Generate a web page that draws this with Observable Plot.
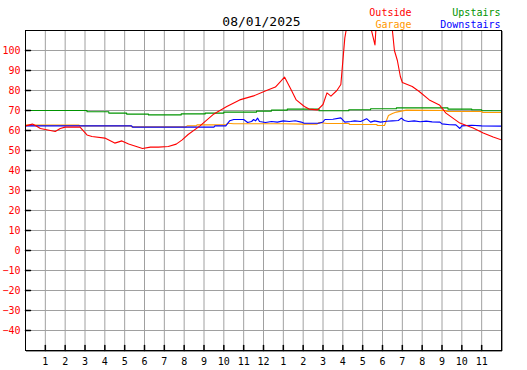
<!DOCTYPE html>
<html>
<head>
<meta charset="utf-8">
<script src="https://cdn.jsdelivr.net/npm/d3@7"></script>
<script src="https://cdn.jsdelivr.net/npm/@observablehq/plot@0.6"></script>
<style>
  html, body { margin: 0; padding: 0; background: #fff; }
  svg { display: block; }
</style>
</head>
<body>
<div id="chart"></div>
<script>
const title = "08/01/2025";
const hourTicks = d3.range(1, 24);
const hourLabels = ["1","2","3","4","5","6","7","8","9","10","11","12","1","2","3","4","5","6","7","8","9","10","11"];
const tempTicks = d3.range(-40, 101, 10);

const seriesNames = ["Outside", "Upstairs", "Garage", "Downstairs"];
const seriesColors = ["#ff0000", "#009400", "#ff9900", "#0000ff"];

// [hour, °F]
const outside = [[0,62.3],[0.35,63.2],[0.5,62.5],[0.75,61],[1.25,60],[1.5,59.5],[1.75,61],[2.0,61.7],[2.75,61.7],[3.1,57.8],[3.35,57],[4,56.2],[4.5,53.7],[4.86,54.8],[5.2,53.2],[5.9,51],[6.3,51.7],[6.7,51.7],[7.2,52],[7.6,53.2],[7.9,55.3],[8.2,58],[8.8,62.3],[9.5,68.3],[10.15,72],[10.8,75.3],[11.5,77.3],[12.15,80],[12.6,81.7],[13.06,86.7],[13.4,80.3],[13.65,75.3],[14.06,72],[14.3,70.7],[14.73,70.3],[15.0,73],[15.2,78.8],[15.4,77.2],[15.7,80],[15.9,83],[16.0,94.7],[16.1,106.3],[16.2,112],[16.6,120],[17.0,118],[17.42,111],[17.62,102.8],[17.67,111],[18,118],[18.4,113],[18.5,110],[18.6,100],[18.75,95],[18.9,87],[19.0,84],[19.5,82],[19.85,79.5],[20.36,75.3],[20.87,72.8],[21.2,68.7],[21.9,63.7],[22.57,61.2],[23.08,58.7],[23.58,56.7],[24,55.3]];

const upstairs = [[0,70],[3.1,69.35],[4.2,68.7],[5.1,68.2],[6.2,67.8],[7.85,68.3],[9.06,68.7],[10,69.2],[11.65,69.7],[12.4,70.2],[13.2,70.7],[14.8,69.85],[16.3,70.35],[17.4,70.85],[18.7,71.3],[21.3,70.7],[22.5,70.35],[23,69.85],[24,69.85]];

const garage = [[0,62.7],[2.7,62.7],[2.72,62.3],[5.3,62.3],[5.35,61.8],[8.1,61.8],[8.15,62.3],[8.6,62.3],[8.65,62.8],[10.1,62.8],[10.2,63.6],[10.5,63.4],[12,63.4],[13,63.4],[14,63.2],[14.7,63.2],[14.8,64],[15.2,63.5],[16.3,63.5],[16.35,63],[17.7,63],[17.75,62.5],[18.1,62.5],[18.3,67.5],[18.5,68.5],[18.7,69.2],[19.2,70.2],[21.2,70],[21.25,69.5],[23,69.5],[23.05,69],[24,69]];

const downstairs = [[0,62.3],[5.35,62.3],[5.4,61.7],[9.5,61.7],[9.55,62.3],[10.1,62.3],[10.3,64.9],[10.5,65.5],[11.0,65.5],[11.2,64],[11.4,64.5],[11.5,65.5],[11.6,64.8],[11.7,66.2],[11.8,64.5],[12.1,64],[12.4,64.5],[12.7,64.2],[13,64.8],[13.3,64.5],[13.6,64.9],[13.9,64.2],[14.05,63.6],[14.8,63.6],[15.0,64.3],[15.1,65.5],[15.5,65.6],[15.9,66.3],[16.1,64.2],[16.4,64.5],[16.6,64.8],[16.9,64.5],[17.2,65.9],[17.4,64.2],[17.6,64.8],[17.9,64.2],[18.2,64.6],[18.5,64.8],[18.8,65],[18.95,66.2],[19.1,65],[19.3,64.5],[19.6,64.8],[19.9,64.4],[20.2,64.7],[20.5,64.3],[20.9,64.2],[21.0,63.3],[21.4,62.9],[21.7,62.8],[21.9,61],[22.0,62.3],[22.5,62.6],[23,62.3],[24,62.2]];

const toRows = arr => arr.map(([h, t]) => ({h, t}));
const mono = "'DejaVu Sans Mono', monospace";
const tickShape = {draw(context, l) { context.moveTo(0, 0); context.lineTo(0, -l); }};

const chart = Plot.plot({
  width: 527,
  height: 370,
  marginLeft: 25,
  marginRight: 26,
  marginTop: 30,
  marginBottom: 20,
  style: {fontFamily: mono, fontSize: "10px", background: "#fff"},
  x: {domain: [0, 24], label: null},
  y: {domain: [-50, 110], label: null},
  marks: [
    Plot.ruleX(hourTicks, {stroke: "#a0a0a0", strokeWidth: 1}),
    Plot.ruleY(tempTicks, {stroke: "#a0a0a0", strokeWidth: 1}),
    Plot.line(toRows(upstairs), {x: "h", y: "t", stroke: seriesColors[1], strokeWidth: 1.1, curve: "step-after"}),
    Plot.line(toRows(garage), {x: "h", y: "t", stroke: seriesColors[2], strokeWidth: 1.1}),
    Plot.line(toRows(downstairs), {x: "h", y: "t", stroke: seriesColors[3], strokeWidth: 1.1}),
    Plot.line(toRows(outside), {x: "h", y: "t", stroke: seriesColors[0], strokeWidth: 1.1, clip: true}),
    // shadow
    Plot.ruleY([-50], {stroke: "#999", dx: 1, dy: 1}),
    Plot.ruleX([24], {stroke: "#999", dx: 1, dy: 1}),
    Plot.frame({stroke: "#000", strokeWidth: 1}),
    Plot.vector(tempTicks, {x: 0, y: d => d, length: 5, rotate: 90, anchor: "start", shape: tickShape, stroke: "#000"}),
    Plot.vector(hourTicks, {x: d => d, y: -50, length: 5, rotate: 0, anchor: "start", shape: tickShape, stroke: "#000"}),
    Plot.axisY({ticks: tempTicks, tickSize: 0, tickPadding: 5, color: "#ff0000", fontSize: 10, label: null}),
    Plot.axisX({ticks: hourTicks, tickSize: 0, tickPadding: 7, tickFormat: (d, i) => hourLabels[i], color: "#000", fontSize: 10, label: null}),
    Plot.text([title], {frameAnchor: "top", dx: -2, dy: -5, lineAnchor: "bottom", fontSize: 13, fill: "#000"}),
    Plot.text([seriesNames[0]], {frameAnchor: "top-right", dx: -90, dy: -15, lineAnchor: "bottom", textAnchor: "end", fill: seriesColors[0]}),
    Plot.text([seriesNames[2]], {frameAnchor: "top-right", dx: -90, dy: -3, lineAnchor: "bottom", textAnchor: "end", fill: seriesColors[2]}),
    Plot.text([seriesNames[1]], {frameAnchor: "top-right", dx: -1, dy: -15, lineAnchor: "bottom", textAnchor: "end", fill: seriesColors[1]}),
    Plot.text([seriesNames[3]], {frameAnchor: "top-right", dx: -1, dy: -3, lineAnchor: "bottom", textAnchor: "end", fill: seriesColors[3]})
  ]
});
document.getElementById("chart").appendChild(chart);
</script>
</body>
</html>
